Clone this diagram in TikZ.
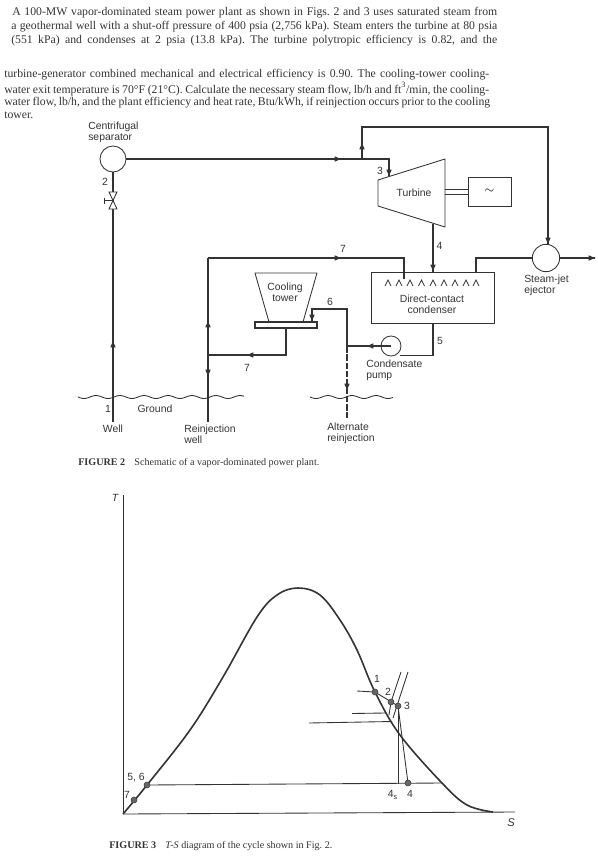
\documentclass[tikz,border=0pt]{standalone}
\usepackage{fontspec}
\setmainfont{Liberation Serif}
\setsansfont{Liberation Sans}
\usetikzlibrary{arrows.meta,calc}
\frenchspacing
\definecolor{ink}{HTML}{333333}
\definecolor{dotgray}{HTML}{666666}
\newcommand{\bodyline}[4]{\node[para] (#4) at (#1,#2) {\makebox[\dimexpr#3pt*3/4\relax][s]{\csname bl#4\endcsname}};}
\newcommand{\bllla}{A 100-MW vapor-dominated steam power plant as shown in Figs. 2 and 3 uses saturated steam from}
\newcommand{\blllb}{a geothermal well with a shut-off pressure of 400 psia (2,756 kPa). Steam enters the turbine at 80 psia}
\newcommand{\blllc}{(551 kPa) and condenses at 2 psia (13.8 kPa). The turbine polytropic efficiency is 0.82, and the}
\newcommand{\bllld}{turbine-generator combined mechanical and electrical efficiency is 0.90. The cooling-tower cooling-}
\newcommand{\bllle}{water exit temperature is 70°F (21°C). Calculate the necessary steam flow, lb/h and ft\textsuperscript{3}/min, the cooling-}
\newcommand{\blllf}{water flow, lb/h, and the plant efficiency and heat rate, Btu/kWh, if reinjection occurs prior to the cooling}
\tikzset{
  x=0.75pt,y=-0.75pt,
  para/.style={anchor=west,inner sep=0pt,font=\fontsize{8.8pt}{10pt}\selectfont,text=ink},
  figcap/.style={anchor=west,inner sep=0pt,font=\fontsize{7.6pt}{9pt}\selectfont,text=ink},
  lab/.style={inner sep=0pt,font=\sffamily\fontsize{7.8pt}{8.2pt}\selectfont,text=ink},
  lableft/.style={lab,anchor=west,align=left},
  pipe/.style={draw=ink,line width=1.25pt},
  thinline/.style={draw=ink,line width=0.65pt},
  flowtip/.style={draw=ink,line width=0.6pt,-{Latex[length=5.5pt,width=4.2pt]}},
  domecurve/.style={draw=ink,line width=1.2pt},
  statedot/.style={circle,fill=dotgray,draw=ink,line width=0.3pt,inner sep=0pt,minimum size=5pt},
  vessel/.style={circle,draw=ink,line width=0.65pt,fill=white,inner sep=0pt}
}
\begin{document}
\begin{tikzpicture}
\useasboundingbox (0,0) rectangle (598,867);
% problem text
\bodyline{12}{13}{485}{lla}
\bodyline{11}{27}{486}{llb}
\bodyline{11}{41}{486}{llc}
\bodyline{4}{75}{485}{lld}
\bodyline{4}{89}{485}{lle}
\bodyline{4}{103}{486}{llf}
\node[para] (llg) at (4,115) {tower.};

% equipment coordinates
\coordinate (tA) at (378,180); \coordinate (tB) at (445,159);
\coordinate (tC) at (445,227); \coordinate (tD) at (378,206);
\coordinate (inlet) at (389,176);
\coordinate (tout) at (433,224);
\coordinate (well) at (113,422);
\coordinate (rein) at (208,422);
\coordinate (reinT) at (208,258);
\coordinate (reinB) at (208,355);
\coordinate (alt) at (347,418);
\coordinate (altJ) at (347,346);
\coordinate (branch) at (362,159);
\coordinate (ejout) at (595,258);
\node[circle,draw=ink,line width=0.65pt,fill=white,inner sep=0pt,minimum size=19.5pt] (sep) at (113,159) {};
\node[vessel,minimum size=20.5pt] (ej) at (546,258) {};
\node[draw=ink,line width=0.65pt,inner sep=0pt,minimum width=92.25pt,minimum height=38.25pt] (cond) at (432.5,297.5) {};
\node[draw=ink,line width=0.65pt,inner sep=0pt,minimum width=32.25pt,minimum height=21.75pt] (gen) at (489.5,191.5) {\raisebox{1pt}{\small$\sim$}};
\node[circle,draw=ink,line width=0.65pt,inner sep=0pt,minimum size=15pt] (pump) at (391,346) {};
\node[draw=ink,line width=0.9pt,fill=white,inner sep=0pt,minimum width=46.5pt,minimum height=4.5pt] (base) at (286,325) {};

% turbine, tower
\draw[thinline,line join=round] (tA) -- (tB) -- (tC) -- (tD) -- cycle;
\draw[thinline,line join=round] (269,322) -- (255,273) -- (317,273) -- (303,322);
\draw[thinline] (445,189) -- (468,189);
\draw[thinline] (445,194) -- (468,194);

% steam pipes
\draw[pipe] (sep.east) -- (389,159) -- (inlet);
\draw[pipe] (branch) -- (362,127) -- (548,127) -- (548,245);
\draw[pipe] (sep.south) -- (well);
\draw[pipe] (tout) -- (433,272);
\draw[pipe] (reinT) -- (rein);
\draw[pipe] (reinT) -- (404,258) -- (404,279);
\draw[pipe] (476,272) -- (476,258) -- (ej.west);
\draw[pipe] (ej.east) -- (ejout);
\draw[pipe] (base.south) -- (286,355) -- (reinB);
\draw[pipe] (312,322) -- (312,309) -- (347,309) -- (altJ);
\draw[pipe] (altJ) -- (pump.center);
\draw[pipe] (400,355.5) -- (433,355.5) -- (433,323);
\draw[pipe,dashed,dash pattern=on 5pt off 1.2pt] (altJ) -- (alt);

% flow arrows
\draw[flowtip] (338,159) -- (342,159);
\draw[flowtip] (362,146) -- (362,142);
\draw[flowtip] (389,170) -- (389,177);
\draw[flowtip] (548,238) -- (548,245);
\draw[flowtip] (433,265) -- (433,272);
\draw[flowtip] (338,258) -- (342,258);
\draw[flowtip] (590,258) -- (596,258);
\draw[flowtip] (113,344) -- (113,340);
\draw[flowtip] (208,324) -- (208,320);
\draw[flowtip] (208,373) -- (208,377);
\draw[flowtip] (250,355) -- (246,355);
\draw[flowtip] (312,316) -- (312,322);
\draw[flowtip] (370,346) -- (366,346);
\draw[flowtip] (347,386) -- (347,391);

% valve
\draw[thinline,fill=white] (109,192) -- (117,192) -- (109,209) -- (117,209) -- cycle;
\draw[thinline] (113,200.5) -- (104,200.5) (104,197.5) -- (104,203.5);

% spray heads
\foreach \sx in {388,399,410,421.5,433,444,455,466,476}
  \draw[thinline] (\sx-3,286) -- (\sx,280) -- (\sx+3,286);

% ground
\draw[thinline,smooth] plot[domain=78:244,samples=90] (\x,{397+1.5*sin(15*(\x-78))});
\draw[thinline,smooth] plot[domain=310:393,samples=50] (\x,{397+1.5*sin(15*(\x-310))});

% schematic labels
\node[lableft] (tsep) at (88,132.5) {Centrifugal\\separator};
\node[lab] (t2) at (105,182) {2};
\node[lab] (t3) at (380,171) {3};
\node[lab] (tturb) at (414,193) {Turbine};
\node[lab] (t4) at (439.5,246) {4};
\node[lab] (t7a) at (343,249) {7};
\node[lab,align=center] (ttower) at (285,292) {Cooling\\tower};
\node[lab] (t6) at (330,302) {6};
\node[lab,align=center] (tcond) at (432,304.5) {Direct-contact\\condenser};
\node[lab] (t5) at (440,341) {5};
\node[lableft] (tej) at (524,285.5) {Steam-jet\\ejector};
\node[lableft] (tpump) at (366,370.5) {Condensate\\pump};
\node[lab] (t7b) at (247,368) {7};
\node[lab] (t1) at (108,409) {1};
\node[lab] (tground) at (155,409) {Ground};
\node[lab] (twell) at (113,429) {Well};
\node[lableft] (trein) at (184,434.5) {Reinjection\\well};
\node[lableft] (talt) at (327,433.5) {Alternate\\reinjection};
\node[figcap] (cap2) at (78,463) {\textbf{FIGURE 2}\hspace{0.9em}Schematic of a vapor-dominated power plant.};

% T-S diagram
\coordinate (O) at (123,814);
\draw[thinline] (O) -- (123,495);
\draw[thinline] (O) -- (515,812);
\draw[domecurve,smooth,tension=0.6] plot coordinates {(123,814) (147,785) (190,730) (223,677) (257,617) (277,595) (298,588) (320,595) (340,620) (357,650) (375,692) (400,735) (442,783) (467,805) (493,812)};
\coordinate (p1) at (375,692);
\coordinate (p2) at (391,702);
\coordinate (p3) at (398,706);
\coordinate (p4) at (408,783);
\coordinate (p4s) at (398,784);
\coordinate (p5) at (147,785);
\coordinate (p7) at (134,800);
\coordinate (pr) at (442,783);
\draw[thinline] (p5) -- (pr);
\draw[thinline] (p1) -- (p3);
\draw[thinline] (p3) -- (p4s);
\draw[thinline] (p3) -- (p4);
\draw[thinline] (357,691) -- (p1);
\draw[thinline] (352,713.5) -- (385,713);
\draw[thinline] (309,723) -- (392,721.5);
\draw[thinline] (401,672) -- (p2);
\draw[thinline] (408,672) -- (393,718);
\draw[thinline] (p2) -- (389,715);
\foreach \pt/\pn in {p1/d1,p2/d2,p3/d3,p4/d4,p5/d5,p7/d7}
  \node[statedot,minimum size=4.6pt] (\pn) at (\pt) {};
\node[lab,font=\sffamily\itshape\fontsize{7.8pt}{8pt}\selectfont] (tT) at (115,498) {T};
\node[lab,font=\sffamily\itshape\fontsize{8.4pt}{9pt}\selectfont] (tS) at (511,823) {S};
\node[lab] (n1) at (377,679) {1};
\node[lab] (n2) at (388,692) {2};
\node[lab] (n3) at (407,706) {3};
\node[lab] (n4s) at (393,795) {4\textsubscript{s}};
\node[lab] (n4) at (410,794) {4};
\node[lab] (n56) at (136,778) {5, 6};
\node[lab] (n7) at (127,795) {7};
\node[figcap] (cap3) at (109,846) {\textbf{FIGURE 3}\hspace{0.9em}\textit{T-S} diagram of the cycle shown in Fig. 2.};
\end{tikzpicture}
\end{document}
